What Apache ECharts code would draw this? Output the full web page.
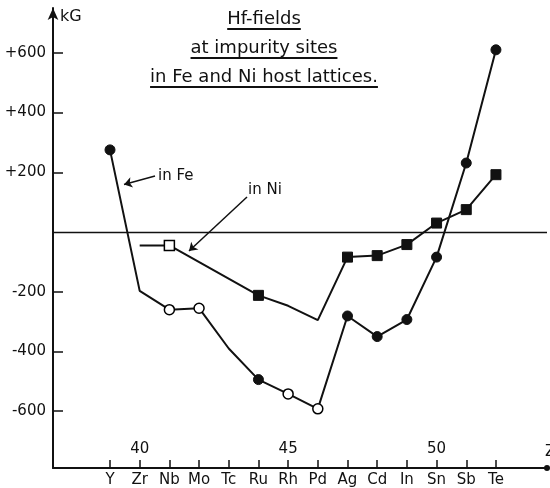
<!DOCTYPE html>
<html>
<head>
<meta charset="utf-8">
<script src="https://cdn.jsdelivr.net/npm/echarts@6/dist/echarts.min.js"></script>
<style>
html, body { margin: 0; padding: 0; background: #fff; }
#chart { width: 550px; height: 488px; }
</style>
</head>
<body>
<div id="chart"></div>
<script>
// Hf-Felder an Fremdatomen in Fe und Ni (kG)
const atomicNumbers = [39, 40, 41, 42, 43, 44, 45, 46, 47, 48, 49, 50, 51, 52];
const elements = ['Y', 'Zr', 'Nb', 'Mo', 'Tc', 'Ru', 'Rh', 'Pd', 'Ag', 'Cd', 'In', 'Sn', 'Sb', 'Te'];
const fieldFe = [275, -197, -260, -255, -390, -494, -542, -592, -281, -350, -293, -84, 231, 610];
const fieldNi = [null, -45, -45, null, null, -212, -247, -295, -84, -79, -42, 30, 75, 192];
// filled = Messpunkt, open = offener Punkt, none = nur Linie
const markFe = ['filled', 'none', 'open', 'open', 'none', 'filled', 'open', 'open', 'filled', 'filled', 'filled', 'filled', 'filled', 'filled'];
const markNi = ['none', 'none', 'open', 'none', 'none', 'filled', 'none', 'none', 'filled', 'filled', 'filled', 'filled', 'filled', 'filled'];
const zTickLabels = [40, 45, 50];
const fieldTicks = [-600, -400, -200, 200, 400, 600];
const titleLines = ['Hf-fields', 'at impurity sites', 'in Fe and Ni host lattices.'];

const FONT = 'DejaVu Sans';

function buildData(values, marks) {
    let out = [];
    values.forEach(function (v, i) {
        if (v === null) return;
        let item = { value: [atomicNumbers[i], v] };
        if (marks[i] === 'none') {
            item.symbol = 'none';
        } else if (marks[i] === 'open') {
            item.itemStyle = { color: '#fff', borderColor: '#000', borderWidth: 1.5 };
        }
        out.push(item);
    });
    return out;
}

// Textbreite fuer die Unterstreichungen
const measureCtx = document.createElement('canvas').getContext('2d');
function textWidth(str, size) {
    measureCtx.font = size + 'px "' + FONT + '"';
    return measureCtx.measureText(str).width;
}

let chart = echarts.init(document.getElementById('chart'));

const titleX = 264;
const titleY = [19, 48, 77];
const titleSize = 18;
let graphics = [];
titleLines.forEach(function (line, i) {
    let w = textWidth(line, titleSize);
    graphics.push({
        type: 'text',
        x: titleX, y: titleY[i],
        style: { text: line, font: titleSize + 'px "' + FONT + '"', fill: '#111', align: 'center', verticalAlign: 'middle' }
    });
    graphics.push({
        type: 'line',
        shape: { x1: titleX - w / 2, y1: titleY[i] + 10, x2: titleX + w / 2, y2: titleY[i] + 10 },
        style: { stroke: '#111', lineWidth: 1.8 }
    });
});
graphics.push({
    type: 'text', x: 60, y: 17,
    style: { text: 'kG', font: '16px "' + FONT + '"', fill: '#111', verticalAlign: 'middle' }
});
graphics.push({
    type: 'text', x: 158, y: 176,
    style: { text: 'in Fe', font: '15px "' + FONT + '"', fill: '#111', verticalAlign: 'middle' }
});
graphics.push({
    type: 'text', x: 248, y: 190,
    style: { text: 'in Ni', font: '15px "' + FONT + '"', fill: '#111', verticalAlign: 'middle' }
});
graphics.push({
    type: 'text', x: 545, y: 452,
    style: { text: 'Z', font: '15px "' + FONT + '"', fill: '#111', verticalAlign: 'middle' }
});

let option = {
    animation: false,
    backgroundColor: '#fff',
    grid: { left: 53, right: 3, top: 8, bottom: 18 },
    xAxis: [
        {
            type: 'value',
            min: 37.08,
            max: 53.72,
            axisLine: { onZero: false, lineStyle: { color: '#111', width: 2 }, symbol: ['none', 'circle'], symbolSize: [6, 6] },
            axisTick: { inside: true, length: 8, customValues: atomicNumbers, lineStyle: { color: '#111', width: 1.5 } },
            axisLabel: {
                customValues: atomicNumbers,
                margin: 5,
                color: '#111',
                fontFamily: FONT,
                fontSize: 15,
                formatter: function (v) {
                    let i = atomicNumbers.indexOf(Math.round(v));
                    return i >= 0 ? elements[i] : '';
                }
            },
            splitLine: { show: false }
        },
        {
            type: 'value',
            position: 'bottom',
            min: 37.08,
            max: 53.72,
            axisLine: { show: false, onZero: false },
            axisTick: { show: false },
            axisLabel: {
                inside: true,
                customValues: zTickLabels,
                margin: 11,
                color: '#111',
                fontFamily: FONT,
                fontSize: 15
            },
            splitLine: { show: false }
        }
    ],
    yAxis: {
        type: 'value',
        min: -790,
        max: 750,
        axisLine: { show: true, onZero: false, lineStyle: { color: '#111', width: 2 }, symbol: ['none', 'arrow'], symbolSize: [8, 12] },
        axisTick: { show: true, inside: true, length: 10, customValues: fieldTicks, lineStyle: { color: '#111', width: 1.5 } },
        axisLabel: {
            customValues: fieldTicks,
            margin: 7,
            color: '#111',
            fontFamily: FONT,
            fontSize: 15,
            formatter: function (v) {
                return v > 0 ? '+' + v : '-' + Math.abs(v);
            }
        },
        splitLine: { show: false }
    },
    series: [
        {
            name: 'in Fe',
            type: 'line',
            data: buildData(fieldFe, markFe),
            symbol: 'circle',
            symbolSize: 10,
            lineStyle: { color: '#111', width: 2 },
            itemStyle: { color: '#111', borderColor: '#111', borderWidth: 1 },
            emphasis: { disabled: true },
            markLine: {
                silent: true,
                symbol: 'none',
                label: { show: false },
                lineStyle: { color: '#111', width: 1.3, type: 'solid' },
                data: [{ yAxis: 0 }]
            },
            z: 3
        },
        {
            name: 'in Ni',
            type: 'line',
            data: buildData(fieldNi, markNi),
            symbol: 'rect',
            symbolSize: 10,
            lineStyle: { color: '#111', width: 2 },
            itemStyle: { color: '#111', borderColor: '#111', borderWidth: 1 },
            emphasis: { disabled: true },
            markLine: {
                silent: true,
                symbol: ['none', 'arrow'],
                symbolSize: 8,
                label: { show: false },
                lineStyle: { color: '#111', width: 1.5, type: 'solid' },
                data: [
                    [{ x: 155, y: 176 }, { x: 124, y: 184.5 }],
                    [{ x: 247, y: 197 }, { x: 189, y: 251 }]
                ]
            },
            z: 3
        }
    ],
    graphic: graphics
};

chart.setOption(option);
</script>
</body>
</html>
